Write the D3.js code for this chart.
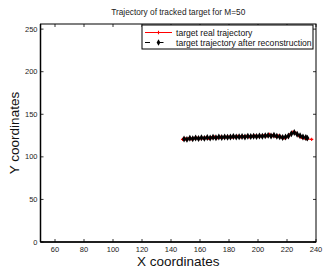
<!DOCTYPE html>
<html>
<head>
<meta charset="utf-8">
<script src="https://cdn.jsdelivr.net/npm/d3@7"></script>
<style>
  body { margin: 0; background: #fff; }
  text { font-family: Arial, "Liberation Sans", sans-serif; }
</style>
</head>
<body>
<script>
(function() {

    var xTicks = [60, 80, 100, 120, 140, 160, 180, 200, 220, 240];
    var yTicks = [0, 50, 100, 150, 200, 250];

    var realX = [148, 150, 152, 154, 156, 158, 160, 162, 164, 166, 168, 170, 172, 174, 176, 178, 180, 182, 184, 186, 188, 190, 192, 194, 196, 198, 200, 202, 204, 206, 208, 210, 212, 214, 216, 218, 220, 222, 224, 226, 228, 230, 232, 234, 237];
    var realY = [120.5, 121, 121.5, 121, 121.8, 122, 121.5, 122, 122.3, 121.8, 122.5, 123, 122.5, 123, 122.8, 123.2, 123.5, 123, 123.5, 124, 123.5, 123.8, 124, 123.6, 124, 124.5, 124, 124.3, 125, 124.5, 126.5, 125, 124, 124.5, 123, 122, 123.5, 126, 129, 128, 125, 123, 122, 121, 120.5];

    var reconX = [149, 151, 153, 155, 157, 159, 161, 163, 165, 167, 169, 171, 173, 175, 177, 179, 181, 183, 185, 187, 189, 191, 193, 195, 197, 199, 201, 203, 205, 207, 209, 211, 213, 215, 217, 219, 221, 223, 225, 227, 229, 231, 233, 234];
    var reconY = [121, 120.5, 121.8, 121.2, 122.2, 121.6, 122.3, 121.7, 122.6, 122.2, 122.9, 122.4, 123.2, 122.6, 123.4, 123, 123.2, 123.8, 123.2, 123.6, 124, 123.4, 124.2, 123.8, 124.3, 123.9, 124.6, 124.1, 124.8, 125.2, 124.6, 125.4, 124.2, 123.6, 122.8, 123.2, 124.6, 127, 128.5, 126.5, 124.8, 123.2, 122.6, 122];

    var width = 324, height = 271;
    var left = 40.5, right = 316, top = 24, bottom = 242;

    var svg = d3.select("body")
        .append("svg")
        .attr("width", width)
        .attr("height", height);

    var x = d3.scaleLinear().domain([50, 240]).range([left, right]);
    var y = d3.scaleLinear().domain([0, 256]).range([bottom, top]);

    // frame
    svg.append("rect")
        .attr("x", left).attr("y", top)
        .attr("width", right - left).attr("height", bottom - top)
        .attr("fill", "none").attr("stroke", "#000").attr("stroke-width", 1);

    // inward ticks on all four sides
    var tickLen = 3;
    xTicks.forEach(function(t) {
        svg.append("line").attr("x1", x(t)).attr("x2", x(t))
            .attr("y1", bottom).attr("y2", bottom - tickLen)
            .attr("stroke", "#000").attr("stroke-width", 0.8);
        svg.append("line").attr("x1", x(t)).attr("x2", x(t))
            .attr("y1", top).attr("y2", top + tickLen)
            .attr("stroke", "#000").attr("stroke-width", 0.8);
        svg.append("text").attr("x", x(t)).attr("y", bottom + 10)
            .attr("text-anchor", "middle").attr("font-size", 7.5)
            .attr("fill", "#222").text(t);
    });
    yTicks.forEach(function(t) {
        svg.append("line").attr("x1", left).attr("x2", left + tickLen)
            .attr("y1", y(t)).attr("y2", y(t))
            .attr("stroke", "#000").attr("stroke-width", 0.8);
        svg.append("line").attr("x1", right).attr("x2", right - tickLen)
            .attr("y1", y(t)).attr("y2", y(t))
            .attr("stroke", "#000").attr("stroke-width", 0.8);
        svg.append("text").attr("x", left - 3).attr("y", y(t) + 2.5)
            .attr("text-anchor", "end").attr("font-size", 7.5)
            .attr("fill", "#222").text(t);
    });

    // heavier bottom and left axis lines
    svg.append("line").attr("x1", left).attr("x2", right)
        .attr("y1", bottom).attr("y2", bottom)
        .attr("stroke", "#000").attr("stroke-width", 1.5);
    svg.append("line").attr("x1", left).attr("x2", left)
        .attr("y1", top).attr("y2", bottom)
        .attr("stroke", "#000").attr("stroke-width", 1.5);

    var realData = realX.map(function(d, i) { return [d, realY[i]]; });
    var reconData = reconX.map(function(d, i) { return [d, reconY[i]]; });

    var line = d3.line()
        .x(function(d) { return x(d[0]); })
        .y(function(d) { return y(d[1]); });

    // real trajectory
    svg.append("path").datum(realData)
        .attr("d", line).attr("fill", "none")
        .attr("stroke", "#f00").attr("stroke-width", 1);
    svg.selectAll(".realMark").data(realData).enter()
        .append("path")
        .attr("class", "realMark")
        .attr("d", d3.symbol().type(d3.symbolCross).size(6))
        .attr("transform", function(d) { return "translate(" + x(d[0]) + "," + y(d[1]) + ")"; })
        .attr("fill", "#f00");

    // reconstructed trajectory
    svg.append("path").datum(reconData)
        .attr("d", line).attr("fill", "none")
        .attr("stroke", "#000").attr("stroke-width", 1.2)
        .attr("stroke-dasharray", "3,2");
    svg.selectAll(".reconMark").data(reconData).enter()
        .append("path")
        .attr("class", "reconMark")
        .attr("d", d3.symbol().type(d3.symbolDiamond).size(14))
        .attr("transform", function(d) { return "translate(" + x(d[0]) + "," + y(d[1]) + ")"; })
        .attr("fill", "#000");

    // title and axis labels
    svg.append("text").attr("x", (left + right) / 2).attr("y", 15)
        .attr("text-anchor", "middle").attr("font-size", 8.3)
        .attr("fill", "#222").text("Trajectory of tracked target for M=50");
    svg.append("text").attr("x", (left + right) / 2).attr("y", 266)
        .attr("text-anchor", "middle").attr("font-size", 13.5)
        .attr("fill", "#111").text("X coordinates");
    svg.append("text")
        .attr("transform", "translate(19," + ((top + bottom) / 2) + ") rotate(-90)")
        .attr("text-anchor", "middle").attr("font-size", 13.5)
        .attr("fill", "#111").text("Y coordinates");

    // legend
    var lg = svg.append("g");
    lg.append("rect").attr("x", 142).attr("y", 25)
        .attr("width", 171).attr("height", 24)
        .attr("fill", "#fff").attr("stroke", "#000").attr("stroke-width", 1);
    lg.append("line").attr("x1", 145).attr("x2", 172).attr("y1", 32.5).attr("y2", 32.5)
        .attr("stroke", "#f00").attr("stroke-width", 1);
    lg.append("path").attr("d", d3.symbol().type(d3.symbolCross).size(6))
        .attr("transform", "translate(158.5,32.5)").attr("fill", "#f00");
    lg.append("text").attr("x", 176).attr("y", 35.5).attr("font-size", 8.6)
        .attr("fill", "#111").text("target real trajectory");
    lg.append("line").attr("x1", 145).attr("x2", 172).attr("y1", 42.5).attr("y2", 42.5)
        .attr("stroke", "#000").attr("stroke-width", 1)
        .attr("stroke-dasharray", "5,8.5");
    lg.append("path").attr("d", d3.symbol().type(d3.symbolDiamond).size(12))
        .attr("transform", "translate(158.5,42.5)").attr("fill", "#000");
    lg.append("text").attr("x", 176).attr("y", 45.5).attr("font-size", 8.6)
        .attr("fill", "#111").text("target trajectory after reconstruction");

})();
</script>
</body>
</html>
